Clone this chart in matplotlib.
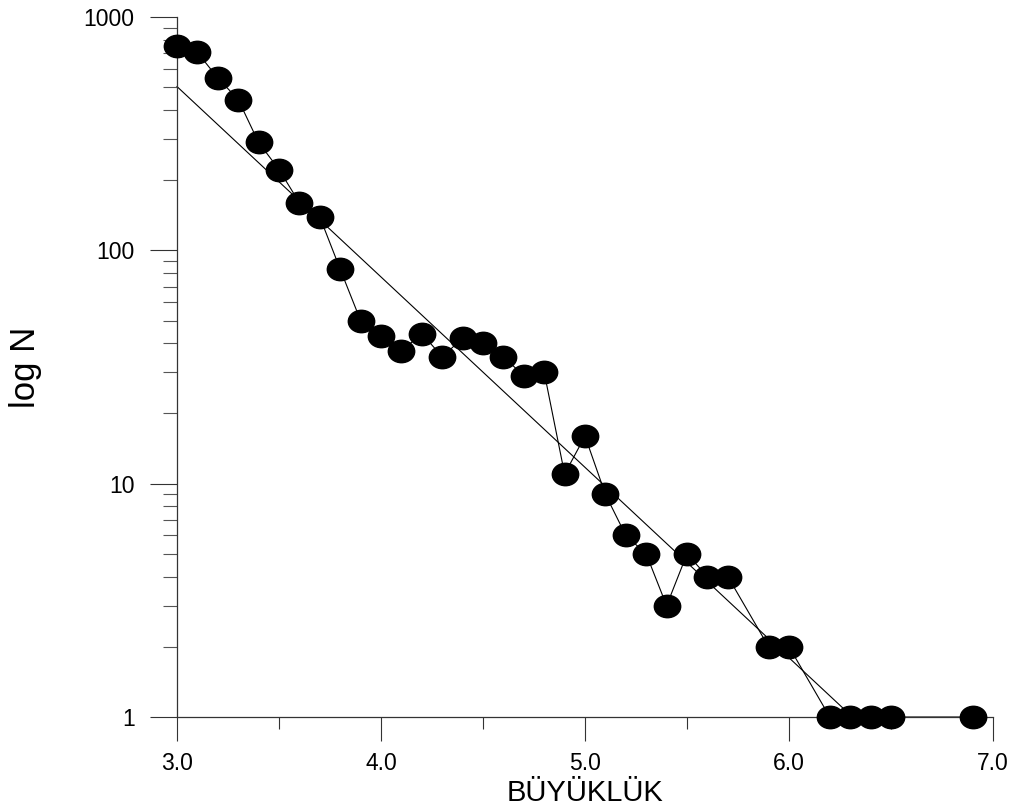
import matplotlib
matplotlib.use("Agg")
import matplotlib.pyplot as plt
from matplotlib.path import Path
from matplotlib.transforms import Affine2D
from matplotlib.ticker import FixedLocator, LogLocator, NullFormatter, FixedFormatter

# magnitude bins and number of events
magnitude = [3.0, 3.1, 3.2, 3.3, 3.4, 3.5, 3.6, 3.7, 3.8, 3.9,
             4.0, 4.1, 4.2, 4.3, 4.4, 4.5, 4.6, 4.7, 4.8, 4.9,
             5.0, 5.1, 5.2, 5.3, 5.4, 5.5, 5.6, 5.7,
             5.9, 6.0, 6.2, 6.3, 6.4, 6.5, 6.9]
counts = [750, 705, 548, 443, 290, 222, 160, 139, 83, 50,
          43, 37, 44, 35, 42, 40, 35, 29, 30, 11,
          16, 9, 6, 5, 3, 5, 4, 4,
          2, 2, 1, 1, 1, 1, 1]

# Gutenberg-Richter fit: log N = a - b M
fit_a = 5.15
fit_b = 0.816
fit_range = [3.0, 6.31]

x_ticks = [3.0, 4.0, 5.0, 6.0, 7.0]
x_tick_labels = ["3.0", "4.0", "5.0", "6.0", "7.0"]
x_minor = [3.5, 4.5, 5.5, 6.5]
y_ticks = [1, 10, 100, 1000]
y_tick_labels = ["1", "10", "100", "1000"]

plt.rcParams["font.family"] = ["Liberation Sans", "DejaVu Sans"]

fig = plt.figure(figsize=(10.19, 8.07), dpi=100)
ax = fig.add_axes([0.1737, 0.1115, 0.8008, 0.8674])

fit_y = [10 ** (fit_a - fit_b * m) for m in fit_range]
ax.plot(fit_range, fit_y, color="black", lw=0.8, clip_on=False, zorder=2)
ax.plot(magnitude, counts, color="black", lw=0.8, clip_on=False, zorder=2)

ellipse = Path.unit_circle().transformed(Affine2D().scale(1.0, 0.85))
ax.plot(magnitude, counts, ls="none", marker=ellipse, markersize=19,
        color="black", clip_on=False, zorder=3)

ax.set_yscale("log")
ax.set_xlim(3.0, 7.0)
ax.set_ylim(1, 1000)

ax.xaxis.set_major_locator(FixedLocator(x_ticks))
ax.xaxis.set_major_formatter(FixedFormatter(x_tick_labels))
ax.xaxis.set_minor_locator(FixedLocator(x_minor))
ax.yaxis.set_major_locator(FixedLocator(y_ticks))
ax.yaxis.set_major_formatter(FixedFormatter(y_tick_labels))
ax.yaxis.set_minor_locator(LogLocator(base=10, subs=range(2, 10)))
ax.yaxis.set_minor_formatter(NullFormatter())

for side in ["top", "right"]:
    ax.spines[side].set_visible(False)
for side in ["left", "bottom"]:
    ax.spines[side].set_linewidth(0.9)
    ax.spines[side].set_color("#333333")

ax.tick_params(axis="y", which="major", direction="out", length=19.5,
               width=0.8, pad=11, labelsize=16.5, color="#333333")
ax.tick_params(axis="y", which="minor", direction="out", length=9.8,
               width=0.8, color="#555555")
ax.tick_params(axis="x", which="major", direction="out", length=17,
               width=0.8, pad=8, labelsize=16.5, color="#333333")
ax.tick_params(axis="x", which="minor", direction="out", length=8.5,
               width=0.8, color="#333333")

ax.set_xlabel("BÜYÜKLÜK", fontsize=21, va="center")
ax.xaxis.set_label_coords(0.5, -0.108)
ax.set_ylabel("log N", fontsize=25, va="center", ha="center")
ax.yaxis.set_label_coords(-0.186, 0.5)

fig.savefig("out.png", dpi=100)
